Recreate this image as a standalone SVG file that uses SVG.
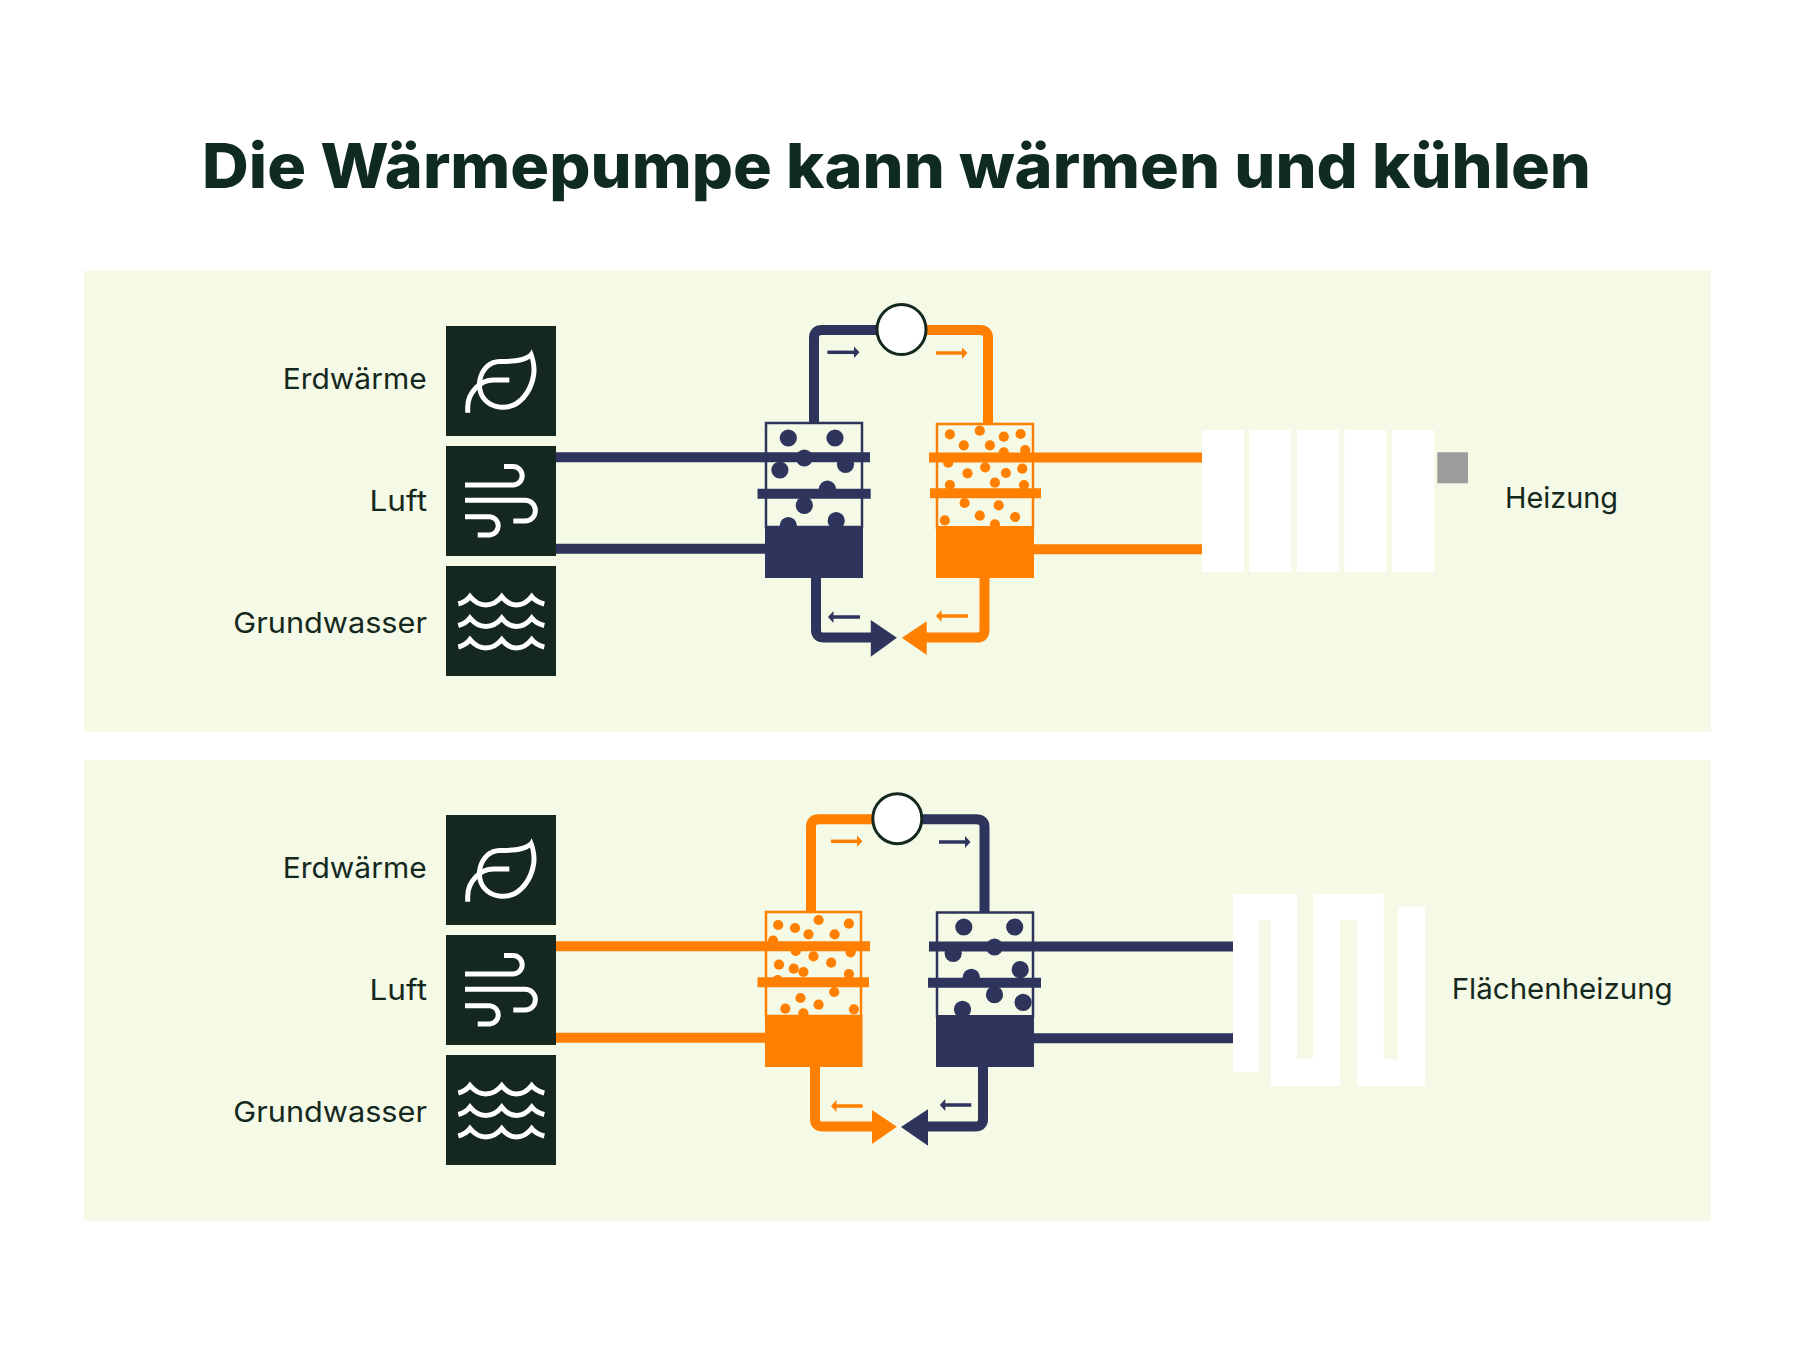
<svg xmlns="http://www.w3.org/2000/svg" width="1800" height="1367" viewBox="0 0 1800 1367">
<style>
.bg{fill:#f4fae6}
.sq{fill:#152820}
.ic{fill:none;stroke:#fff;stroke-width:5}
.lb{font-family:Inter,"Liberation Sans",sans-serif;font-size:29px;fill:#152820}
.n{fill:#2f345c}.o{fill:#ff7f00}
.nl{fill:none;stroke:#2f345c;stroke-width:10}
.ol{fill:none;stroke:#ff7f00;stroke-width:10}
.ns{fill:none;stroke:#2f345c;stroke-width:2.5}
.os{fill:none;stroke:#ff7f00;stroke-width:2.5}
.ar{stroke-width:3.5}
.w{fill:#fff}
.pump{fill:#fff;stroke:#152820;stroke-width:3}
</style>
<defs>
<g id="iconset">
<rect class="sq" x="446" y="326" width="110" height="110"/>
<rect class="sq" x="446" y="446" width="110" height="110"/>
<rect class="sq" x="446" y="566" width="110" height="110"/>
<path class="ic" d="M467.7 412.7V407C467.7 393 480 380 493.3 380H509.3"/>
<path class="w" fill-rule="evenodd" d="M531.7 349.3C529 357 518 359 500 359C485 359 477 373 477 385C477 400 489 409.8 503.3 409.8C525 409.8 536.5 386 536.5 370C536.5 362 534 355 531.7 349.3ZM530 358.5C526 362 517 364 500 364C489 364 482 374 482 385C482 397 491 404.8 503.3 404.8C521 404.8 531.5 384 531.5 370C531.5 366 531 362 530 358.5Z"/>
<path class="ic" d="M465 485H513A9.2 9.2 0 0 0 513 466.6H504"/>
<path class="ic" d="M465 500.3H525A10.3 10.3 0 0 1 525 521H513.3"/>
<path class="ic" d="M465 516.7H490A9.2 9.2 0 0 1 490 535H477.7"/>
<path id="wave" class="ic" d="M458.3 604Q466 602 470 596.5Q477 605 485.7 605Q495 605 501.7 596.5Q508 605 516.7 605Q525 605 531.7 596.5Q536 602 544.3 604"/>
<use href="#wave" y="21.5"/>
<use href="#wave" y="43"/>
<text class="lb" x="282.7" y="388.8" textLength="144" lengthAdjust="spacingAndGlyphs">Erdwärme</text>
<text class="lb" x="369.5" y="510.7" textLength="57.5" lengthAdjust="spacingAndGlyphs">Luft</text>
<text class="lb" x="233.3" y="632.8" textLength="193.7" lengthAdjust="spacingAndGlyphs">Grundwasser</text>
</g>
</defs>
<rect width="1800" height="1367" fill="#fff"/>
<text id="title" x="202" y="187.7" textLength="1389" lengthAdjust="spacingAndGlyphs" font-family="Inter,'Liberation Sans',sans-serif" font-weight="800" font-size="62" fill="#0f2a20">Die Wärmepumpe kann wärmen und kühlen</text>
<rect id="panel-top" class="bg" x="84" y="270.7" width="1627" height="461"/>
<rect id="panel-bottom" class="bg" x="84" y="760" width="1627" height="460.7"/>
<g id="sources-top"><use href="#iconset"/></g>
<g id="sources-bottom"><use href="#iconset" y="489"/></g>

<g id="connectors">
<path class="nl" d="M814 422V338Q814 330 822 330H880"/>
<path class="ol" d="M923 330H980Q988 330 988 338V423"/>
<path class="nl" d="M556 457.2H870M757.5 493.7H870.7M556 548.7H766"/>
<path class="ol" d="M929 457.5H1203M930 493.3H1041M1034 549.2H1203"/>
<path class="nl" d="M816 577V630Q816 637.5 824 637.5H872"/>
<path class="ol" d="M984.5 577V630Q984.5 637.5 977 637.5H926"/>
<path class="n" d="M870.8 620L896.9 637.7L870.8 656.7Z"/>
<path class="o" d="M926.7 621.3L901.9 637.7L926.7 655Z"/>
<path class="ns ar" d="M827.4 352.3H857"/><path class="n" d="M854 346.5L859.5 352.3L854 358Z"/>
<path class="os ar" d="M936 353H965"/><path class="o" d="M962 347.5L967.5 353L962 359Z"/>
<path class="ns ar" d="M860 617H830"/><path class="n" d="M833.5 611L828 617L833.5 623Z"/>
<path class="os ar" d="M968 616H938"/><path class="o" d="M941.5 610L936 616L941.5 622Z"/>

<path class="ol" d="M811 912V827Q811 819.3 819 819.3H880"/>
<path class="nl" d="M920 819.3H976Q984.5 819.3 984.5 827V912"/>
<path class="ol" d="M556 946.3H870M757.5 982.3H869M556 1037.7H766"/>
<path class="nl" d="M929 946.5H1234M928 982.7H1041M1033 1038.3H1234"/>
<path class="ol" d="M815 1066V1119Q815 1126.5 823 1126.5H874"/>
<path class="nl" d="M983 1066V1119Q983 1126.5 975 1126.5H926"/>
<path class="o" d="M872 1110L896.9 1126.7L872 1144Z"/>
<path class="n" d="M928 1109.3L901 1127L928 1145.7Z"/>
<path class="os ar" d="M831 841.3H860"/><path class="o" d="M857 835.5L862.5 841.3L857 847Z"/>
<path class="ns ar" d="M939 842H968"/><path class="n" d="M965 836L970.5 842L965 848Z"/>
<path class="os ar" d="M862.7 1106H833"/><path class="o" d="M836.5 1100L831 1106L836.5 1112Z"/>
<path class="ns ar" d="M971.3 1105H942"/><path class="n" d="M945.3 1099L939.8 1105L945.3 1111Z"/>
</g>

<g id="pump-top"><ellipse class="pump" cx="901.5" cy="329.5" rx="24.5" ry="25"/></g>
<g id="pump-bottom"><ellipse class="pump" cx="897.3" cy="818.7" rx="24.5" ry="25"/></g>

<g id="tank-top-left">
<rect class="ns" x="766" y="423" width="96" height="104"/>
<g class="n"><circle cx="788.3" cy="438" r="8.6"/><circle cx="835" cy="438" r="8.6"/><circle cx="804.3" cy="458" r="8.6"/><circle cx="779.9" cy="470" r="8.6"/><circle cx="845.5" cy="464.3" r="8.6"/><circle cx="827.4" cy="489" r="8.6"/><circle cx="804.3" cy="505.3" r="8.6"/><circle cx="788.3" cy="525.7" r="8.6"/><circle cx="836.2" cy="520.7" r="8.6"/></g>
<rect class="n" x="765" y="526" width="98" height="52"/>
</g>
<g id="tank-top-right">
<rect class="os" x="937" y="424" width="96" height="104"/>
<g class="o"><circle cx="949.9" cy="434.3" r="5.1"/><circle cx="979.8" cy="430.7" r="5.1"/><circle cx="1003.8" cy="436.7" r="5.1"/><circle cx="1020.6" cy="434" r="5.1"/><circle cx="963.8" cy="445.3" r="5.1"/><circle cx="989.9" cy="445.3" r="5.1"/><circle cx="1003.8" cy="452.3" r="5.1"/><circle cx="1025.2" cy="450" r="5.1"/><circle cx="948.2" cy="462.7" r="5.1"/><circle cx="967.5" cy="473.3" r="5.1"/><circle cx="985.2" cy="467.3" r="5.1"/><circle cx="1005.9" cy="473" r="5.1"/><circle cx="1022.3" cy="468.7" r="5.1"/><circle cx="994.9" cy="482.7" r="5.1"/><circle cx="949.9" cy="485" r="5.1"/><circle cx="1024" cy="485" r="5.1"/><circle cx="964.6" cy="503" r="5.1"/><circle cx="998.7" cy="505.3" r="5.1"/><circle cx="944.8" cy="520.3" r="5.1"/><circle cx="979.8" cy="515.7" r="5.1"/><circle cx="1015.1" cy="517" r="5.1"/><circle cx="994.9" cy="524.3" r="5.1"/></g>
<rect class="o" x="936" y="526" width="98" height="52"/>
</g>
<g id="tank-bottom-left">
<rect class="os" x="766" y="912" width="95" height="104"/>
<g class="o"><circle cx="778.2" cy="925" r="5.1"/><circle cx="795" cy="928" r="5.1"/><circle cx="818.6" cy="920" r="5.1"/><circle cx="848.9" cy="923.7" r="5.1"/><circle cx="808.5" cy="934.3" r="5.1"/><circle cx="834.6" cy="934.3" r="5.1"/><circle cx="773.1" cy="940.7" r="5.1"/><circle cx="795.8" cy="951" r="5.1"/><circle cx="850.6" cy="952.3" r="5.1"/><circle cx="813.5" cy="956.3" r="5.1"/><circle cx="779" cy="964.7" r="5.1"/><circle cx="793.7" cy="968.7" r="5.1"/><circle cx="803.4" cy="972" r="5.1"/><circle cx="831.2" cy="962.7" r="5.1"/><circle cx="848.9" cy="974" r="5.1"/><circle cx="777.7" cy="980" r="5.1"/><circle cx="834.2" cy="992" r="5.1"/><circle cx="800.5" cy="998" r="5.1"/><circle cx="818.6" cy="1004.7" r="5.1"/><circle cx="785.3" cy="1008.7" r="5.1"/><circle cx="803.4" cy="1013.3" r="5.1"/><circle cx="853.9" cy="1009.3" r="5.1"/></g>
<rect class="o" x="765" y="1015" width="97.5" height="52"/>
</g>
<g id="tank-bottom-right">
<rect class="ns" x="937" y="912.5" width="96" height="104"/>
<g class="n"><circle cx="963.8" cy="927" r="8.6"/><circle cx="1014.7" cy="927" r="8.6"/><circle cx="953.2" cy="953.3" r="8.6"/><circle cx="994.5" cy="947" r="8.6"/><circle cx="1020.2" cy="969.7" r="8.6"/><circle cx="971.3" cy="977.3" r="8.6"/><circle cx="994.5" cy="994.7" r="8.6"/><circle cx="1023.1" cy="1002.3" r="8.6"/><circle cx="962.5" cy="1009.3" r="8.6"/></g>
<rect class="n" x="936" y="1015" width="98" height="52"/>
</g>

<g id="radiator">
<rect class="w" x="1202" y="430" width="42" height="142"/><rect class="w" x="1249.3" y="430" width="42" height="142"/><rect class="w" x="1297" y="430" width="42" height="142"/><rect class="w" x="1344.3" y="430" width="42" height="142"/><rect class="w" x="1392" y="430" width="42" height="142"/>
<rect x="1437.3" y="452.3" width="30.7" height="31" fill="#9c9c9c"/>
<text class="lb" x="1505" y="507.7" textLength="113" lengthAdjust="spacingAndGlyphs">Heizung</text>
</g>
<g id="floor-heating">
<path class="w" d="M1233 894H1297V1059.3H1313.3V894H1383.7V1059.3H1398.3V906.7H1425V1086H1357.3V920H1340V1086H1270.7V920H1259.3V1072.3H1233Z"/>
<text class="lb" x="1451.7" y="999" textLength="221" lengthAdjust="spacingAndGlyphs">Flächenheizung</text>
</g>
</svg>
